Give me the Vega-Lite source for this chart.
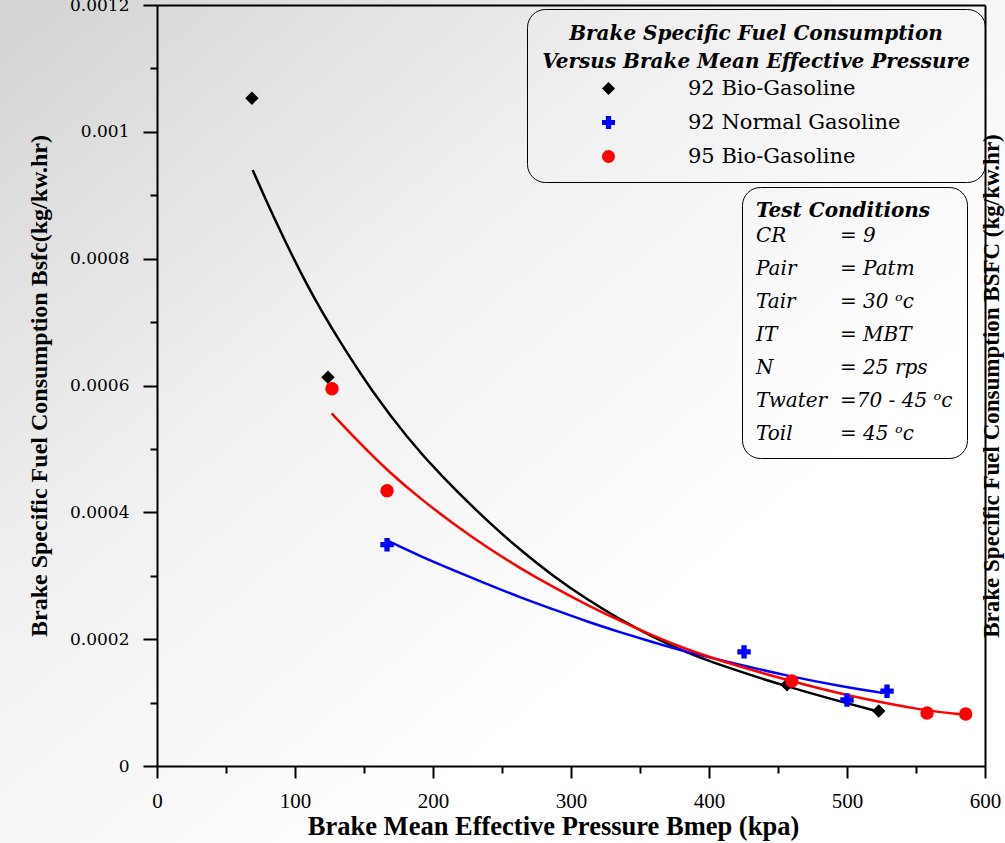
{
  "$schema": "https://vega.github.io/schema/vega-lite/v6.json",
  "width": 828,
  "height": 761,
  "autosize": {"type": "none"},
  "padding": {"left": 157, "top": 5, "right": 20, "bottom": 77},
  "background": "white",
  "config": {"view": {"stroke": null}},
  "datasets": {
    "points": [
      {"series": "92 Bio-Gasoline", "bmep": 68.8, "bsfc": 0.001053},
      {"series": "92 Bio-Gasoline", "bmep": 123.9, "bsfc": 0.000613},
      {"series": "92 Bio-Gasoline", "bmep": 456.5, "bsfc": 0.000128},
      {"series": "92 Bio-Gasoline", "bmep": 523.0, "bsfc": 0.0000867},
      {"series": "95 Bio-Gasoline", "bmep": 126.8, "bsfc": 0.000595},
      {"series": "95 Bio-Gasoline", "bmep": 166.7, "bsfc": 0.000434},
      {"series": "95 Bio-Gasoline", "bmep": 460.0, "bsfc": 0.000134},
      {"series": "95 Bio-Gasoline", "bmep": 558.0, "bsfc": 0.0000836},
      {"series": "95 Bio-Gasoline", "bmep": 586.0, "bsfc": 0.000082},
      {"series": "92 Normal Gasoline", "bmep": 166.7, "bsfc": 0.000349},
      {"series": "92 Normal Gasoline", "bmep": 425.4, "bsfc": 0.00018},
      {"series": "92 Normal Gasoline", "bmep": 500.0, "bsfc": 0.000104},
      {"series": "92 Normal Gasoline", "bmep": 529.0, "bsfc": 0.000118}
    ],
    "fits": [
      {"series": "92 Bio-Gasoline", "bmep": 69.3, "bsfc": 0.00094},
      {"series": "92 Bio-Gasoline", "bmep": 84.3, "bsfc": 0.000866},
      {"series": "92 Bio-Gasoline", "bmep": 108.5, "bsfc": 0.000757},
      {"series": "92 Bio-Gasoline", "bmep": 132.6, "bsfc": 0.000668},
      {"series": "92 Bio-Gasoline", "bmep": 156.7, "bsfc": 0.000588},
      {"series": "92 Bio-Gasoline", "bmep": 180.9, "bsfc": 0.000519},
      {"series": "92 Bio-Gasoline", "bmep": 205.1, "bsfc": 0.000459},
      {"series": "92 Bio-Gasoline", "bmep": 238.9, "bsfc": 0.000387},
      {"series": "92 Bio-Gasoline", "bmep": 263.0, "bsfc": 0.000341},
      {"series": "92 Bio-Gasoline", "bmep": 287.2, "bsfc": 0.000299},
      {"series": "92 Bio-Gasoline", "bmep": 311.4, "bsfc": 0.000263},
      {"series": "92 Bio-Gasoline", "bmep": 335.5, "bsfc": 0.000231},
      {"series": "92 Bio-Gasoline", "bmep": 359.6, "bsfc": 0.000203},
      {"series": "92 Bio-Gasoline", "bmep": 383.8, "bsfc": 0.000179},
      {"series": "92 Bio-Gasoline", "bmep": 408.0, "bsfc": 0.000159},
      {"series": "92 Bio-Gasoline", "bmep": 456.5, "bsfc": 0.000125},
      {"series": "92 Bio-Gasoline", "bmep": 499.8, "bsfc": 0.000099},
      {"series": "92 Bio-Gasoline", "bmep": 523.0, "bsfc": 0.0000856},
      {"series": "92 Normal Gasoline", "bmep": 166.4, "bsfc": 0.000356},
      {"series": "92 Normal Gasoline", "bmep": 190.6, "bsfc": 0.000331},
      {"series": "92 Normal Gasoline", "bmep": 214.7, "bsfc": 0.000309},
      {"series": "92 Normal Gasoline", "bmep": 238.9, "bsfc": 0.000287},
      {"series": "92 Normal Gasoline", "bmep": 263.0, "bsfc": 0.000266},
      {"series": "92 Normal Gasoline", "bmep": 287.2, "bsfc": 0.000247},
      {"series": "92 Normal Gasoline", "bmep": 311.4, "bsfc": 0.000228},
      {"series": "92 Normal Gasoline", "bmep": 335.5, "bsfc": 0.000211},
      {"series": "92 Normal Gasoline", "bmep": 359.6, "bsfc": 0.000195},
      {"series": "92 Normal Gasoline", "bmep": 383.8, "bsfc": 0.00018},
      {"series": "92 Normal Gasoline", "bmep": 408.0, "bsfc": 0.000167},
      {"series": "92 Normal Gasoline", "bmep": 458.7, "bsfc": 0.000141},
      {"series": "92 Normal Gasoline", "bmep": 499.8, "bsfc": 0.000124},
      {"series": "92 Normal Gasoline", "bmep": 526.3, "bsfc": 0.000115},
      {"series": "95 Bio-Gasoline", "bmep": 126.6, "bsfc": 0.000556},
      {"series": "95 Bio-Gasoline", "bmep": 144.7, "bsfc": 0.000514},
      {"series": "95 Bio-Gasoline", "bmep": 168.8, "bsfc": 0.000462},
      {"series": "95 Bio-Gasoline", "bmep": 190.6, "bsfc": 0.000422},
      {"series": "95 Bio-Gasoline", "bmep": 214.7, "bsfc": 0.000382},
      {"series": "95 Bio-Gasoline", "bmep": 238.9, "bsfc": 0.000345},
      {"series": "95 Bio-Gasoline", "bmep": 263.0, "bsfc": 0.000312},
      {"series": "95 Bio-Gasoline", "bmep": 287.2, "bsfc": 0.000282},
      {"series": "95 Bio-Gasoline", "bmep": 311.4, "bsfc": 0.000254},
      {"series": "95 Bio-Gasoline", "bmep": 335.5, "bsfc": 0.000229},
      {"series": "95 Bio-Gasoline", "bmep": 359.6, "bsfc": 0.000205},
      {"series": "95 Bio-Gasoline", "bmep": 383.8, "bsfc": 0.000184},
      {"series": "95 Bio-Gasoline", "bmep": 408.0, "bsfc": 0.000166},
      {"series": "95 Bio-Gasoline", "bmep": 458.7, "bsfc": 0.000134},
      {"series": "95 Bio-Gasoline", "bmep": 499.8, "bsfc": 0.000111},
      {"series": "95 Bio-Gasoline", "bmep": 557.7, "bsfc": 0.0000865},
      {"series": "95 Bio-Gasoline", "bmep": 585.0, "bsfc": 0.000081}
    ],
    "conditions": [
      {"cond": "CR"}, {"cond": "= 9"},
      {"cond": "Pair"}, {"cond": "= Patm"},
      {"cond": "Tair"}, {"cond": "= 30 ᵒc"},
      {"cond": "IT"}, {"cond": "= MBT"},
      {"cond": "N"}, {"cond": "= 25 rps"},
      {"cond": "Twater"}, {"cond": "=70 - 45 ᵒc"},
      {"cond": "Toil"}, {"cond": "= 45 ᵒc"}
    ]
  },
  "layer": [
    {
      "data": {"values": [{"part": "page"}]},
      "mark": {
        "type": "rect",
        "clip": false,
        "fill": {
          "gradient": "linear", "x1": 0, "y1": 0, "x2": 1, "y2": 1,
          "stops": [
            {"offset": 0, "color": "#d3d3d3"},
            {"offset": 0.35, "color": "#f0f0f0"},
            {"offset": 0.7, "color": "#ffffff"}
          ]
        }
      },
      "encoding": {
        "x": {
          "datum": -114, "type": "quantitative",
          "scale": {"domain": [0, 600], "nice": false, "zero": false},
          "axis": {"orient": "top", "domain": true, "ticks": false, "labels": false, "grid": false, "title": null, "domainColor": "black", "domainWidth": 2, "zindex": 1}
        },
        "x2": {"datum": 615},
        "y": {
          "datum": 0.00121, "type": "quantitative",
          "scale": {"domain": [0, 0.0012], "nice": false},
          "axis": {
            "orient": "right", "domain": true, "ticks": false, "labels": false, "grid": false,
            "domainColor": "black", "domainWidth": 2, "zindex": 1,
            "title": "Brake Specific Fuel Consumption BSFC (kg/kw.hr)",
            "titleFont": "Liberation Serif", "titleFontWeight": "bold", "titleFontSize": 23,
            "titleColor": "black", "titleAngle": 270, "titleBaseline": "top", "titlePadding": -5
          }
        },
        "y2": {"datum": -0.000122}
      }
    },
    {
      "data": {"name": "fits"},
      "mark": {"type": "line", "interpolate": "basis", "strokeWidth": 2.5},
      "encoding": {
        "x": {
          "field": "bmep", "type": "quantitative",
          "axis": {
            "orient": "bottom", "values": [0, 100, 200, 300, 400, 500, 600],
            "grid": false, "domainColor": "black", "domainWidth": 2,
            "tickColor": "black", "tickWidth": 2, "tickSize": 12,
            "labelFont": "Liberation Serif", "labelFontSize": 21, "labelColor": "black",
            "labelPadding": 12, "labelFlush": false, "labelOverlap": false,
            "title": "Brake Mean Effective Pressure Bmep (kpa)",
            "titleFont": "Liberation Serif", "titleFontWeight": "bold", "titleFontSize": 26.5,
            "titleColor": "black", "titlePadding": 2, "titleX": 396, "zindex": 1
          }
        },
        "y": {
          "field": "bsfc", "type": "quantitative",
          "axis": {
            "orient": "left", "values": [0, 0.0002, 0.0004, 0.0006, 0.0008, 0.001, 0.0012],
            "labelExpr": "datum.value == 0 ? '0' : format(datum.value, '.2~g')",
            "grid": false, "domainColor": "black", "domainWidth": 2,
            "tickColor": "black", "tickWidth": 2, "tickSize": 14,
            "labelFont": "DejaVu Serif", "labelFontSize": 17, "labelColor": "black",
            "labelPadding": 14, "labelFlush": false, "labelOverlap": false,
            "title": "Brake Specific Fuel Consumption Bsfc(kg/kw.hr)",
            "titleFont": "Liberation Serif", "titleFontWeight": "bold", "titleFontSize": 24,
            "titleColor": "black", "titlePadding": 18, "zindex": 1
          }
        },
        "stroke": {
          "field": "series", "type": "nominal",
          "scale": {"range": ["#000000", "#0000ff", "#ff0000"]},
          "legend": null
        }
      }
    },
    {
      "data": {"name": "points"},
      "mark": {"type": "point", "filled": true, "size": 180, "opacity": 1},
      "encoding": {
        "x": {
          "field": "bmep", "type": "quantitative",
          "axis": {
            "orient": "bottom", "values": [50, 150, 250, 350, 450, 550],
            "grid": false, "domain": false, "labels": false, "title": null,
            "tickColor": "black", "tickWidth": 2, "tickSize": 7, "zindex": 1
          }
        },
        "y": {
          "field": "bsfc", "type": "quantitative",
          "axis": {
            "orient": "left", "values": [0.0001, 0.0003, 0.0005, 0.0007, 0.0009, 0.0011],
            "grid": false, "domain": false, "labels": false, "title": null,
            "tickColor": "black", "tickWidth": 2, "tickSize": 7, "zindex": 1
          }
        },
        "color": {
          "field": "series", "type": "nominal",
          "scale": {"domain": ["92 Bio-Gasoline", "92 Normal Gasoline", "95 Bio-Gasoline"], "range": ["#000000", "#0000ff", "#ff0000"]},
          "legend": {
            "title": ["Brake Specific Fuel Consumption", "Versus Brake Mean Effective Pressure"],
            "orient": "none", "legendX": 370, "legendY": 4, "zindex": 1,
            "padding": 15, "cornerRadius": 18, "strokeColor": "black",
            "titleFont": "DejaVu Serif", "titleFontSize": 20, "titleFontStyle": "italic", "titleFontWeight": "bold",
            "titleColor": "black", "titleAlign": "center", "titleAnchor": "middle", "titleLineHeight": 28, "titlePadding": 6, "titleLimit": 700,
            "labelFont": "DejaVu Serif", "labelFontSize": 21, "labelColor": "black", "labelOffset": 69, "labelLimit": 400,
            "symbolOffset": -14, "symbolSize": 170, "symbolStrokeWidth": 0, "rowPadding": 12
          }
        },
        "shape": {
          "field": "series", "type": "nominal",
          "scale": {"domain": ["92 Bio-Gasoline", "92 Normal Gasoline", "95 Bio-Gasoline"], "range": ["diamond", "cross", "circle"]},
          "legend": {
            "title": ["Brake Specific Fuel Consumption", "Versus Brake Mean Effective Pressure"],
            "orient": "none", "legendX": 370, "legendY": 4, "zindex": 1,
            "padding": 15, "cornerRadius": 18, "strokeColor": "black",
            "titleFont": "DejaVu Serif", "titleFontSize": 20, "titleFontStyle": "italic", "titleFontWeight": "bold",
            "titleColor": "black", "titleAlign": "center", "titleAnchor": "middle", "titleLineHeight": 28, "titlePadding": 6, "titleLimit": 700,
            "labelFont": "DejaVu Serif", "labelFontSize": 21, "labelColor": "black", "labelOffset": 69, "labelLimit": 400,
            "symbolOffset": -14, "symbolSize": 170, "symbolStrokeWidth": 0, "rowPadding": 12
          }
        }
      }
    },
    {
      "data": {"name": "conditions"},
      "mark": {"type": "point", "opacity": 0},
      "encoding": {
        "strokeDash": {
          "field": "cond", "type": "nominal",
          "scale": {"domain": ["CR", "Pair", "Tair", "IT", "N", "Twater", "Toil", "= 9", "= Patm", "= 30 ᵒc", "= MBT", "= 25 rps", "=70 - 45 ᵒc", "= 45 ᵒc"]},
          "legend": {
            "title": "Test Conditions",
            "orient": "none", "legendX": 585, "legendY": 182, "zindex": 1,
            "padding": 14, "cornerRadius": 18, "strokeColor": "black",
            "columns": 2, "columnPadding": 12, "rowPadding": 13, "gridAlign": "each",
            "titleFont": "DejaVu Serif", "titleFontSize": 20, "titleFontStyle": "italic", "titleFontWeight": "bold",
            "titleColor": "black", "titlePadding": 5, "titleLimit": 400,
            "labelFont": "DejaVu Serif", "labelFontSize": 20, "labelFontStyle": "italic", "labelColor": "black",
            "labelOffset": -20, "labelLimit": 300,
            "symbolSize": 0, "symbolOpacity": 0, "symbolStrokeWidth": 0
          }
        }
      }
    }
  ],
  "resolve": {"axis": {"x": "independent", "y": "independent"}}
}
